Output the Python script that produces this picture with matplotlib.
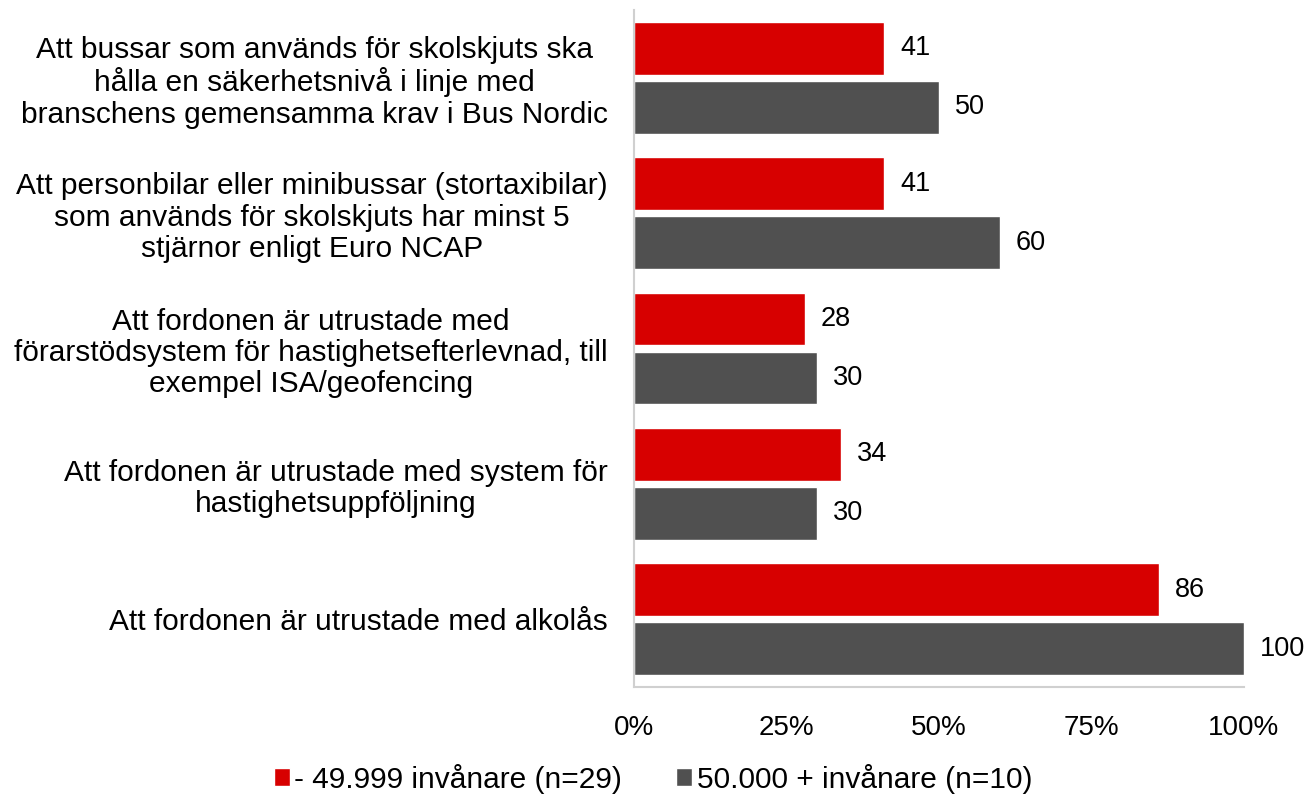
import matplotlib.pyplot as plt
import numpy as np
from matplotlib.ticker import PercentFormatter

plt.rcParams['font.family'] = ['Liberation Sans', 'DejaVu Sans']

categories = [
    "Att bussar som används för skolskjuts ska\nhålla en säkerhetsnivå i linje med\nbranschens gemensamma krav i Bus Nordic",
    "Att personbilar eller minibussar (stortaxibilar)\nsom används för skolskjuts har minst 5\nstjärnor enligt Euro NCAP",
    "Att fordonen är utrustade med\nförarstödsystem för hastighetsefterlevnad, till\nexempel ISA/geofencing",
    "Att fordonen är utrustade med system för\nhastighetsuppföljning",
    "Att fordonen är utrustade med alkolås",
]
small = [41, 41, 28, 34, 86]
large = [50, 60, 30, 30, 100]
series_names = ["- 49.999 invånare (n=29)", "50.000 + invånare (n=10)"]

red = "#D70000"
grey = "#505050"

fig = plt.figure(figsize=(13.06, 7.97), dpi=100)
ax = fig.add_axes([0.4855, 0.138, 0.467, 0.8495])

y = np.arange(len(categories))
h = 0.39
off = 0.218
b1 = ax.barh(y - off, small, height=h, color=red, edgecolor="white", linewidth=1, label=series_names[0])
b2 = ax.barh(y + off, large, height=h, color=grey, edgecolor="white", linewidth=1, label=series_names[1])

for bars, vals in [(b1, small), (b2, large)]:
    for rect, v in zip(bars, vals):
        ax.text(rect.get_width() + 2.6, rect.get_y() + rect.get_height() / 2, str(v),
                va="center", ha="left", fontsize=19.5)

ax.set_ylim(len(categories) - 0.5, -0.5)
ax.set_xlim(0, 100)
ax.set_yticks(y)
ax.set_yticklabels(categories, fontsize=21.5, multialignment="center", linespacing=1.15)
ax.set_xticks([0, 25, 50, 75, 100])
ax.xaxis.set_major_formatter(PercentFormatter(decimals=0))
ax.tick_params(axis="x", labelsize=20, length=0, pad=20)
ax.tick_params(axis="y", length=0, pad=19)

for s in ["top", "right"]:
    ax.spines[s].set_visible(False)
ax.spines["left"].set_color("#D0D0D0")
ax.spines["bottom"].set_color("#D0D0D0")
ax.spines["left"].set_linewidth(1.5)
ax.spines["bottom"].set_linewidth(1.5)

fig.legend(handles=[b1, b2], labels=series_names, loc="lower center", ncol=2,
           bbox_to_anchor=(0.5, -0.03), frameon=False, fontsize=21.5,
           handlelength=0.55, handleheight=0.55, handletextpad=0.15, columnspacing=1.8)

fig.savefig("out.png", dpi=100)
